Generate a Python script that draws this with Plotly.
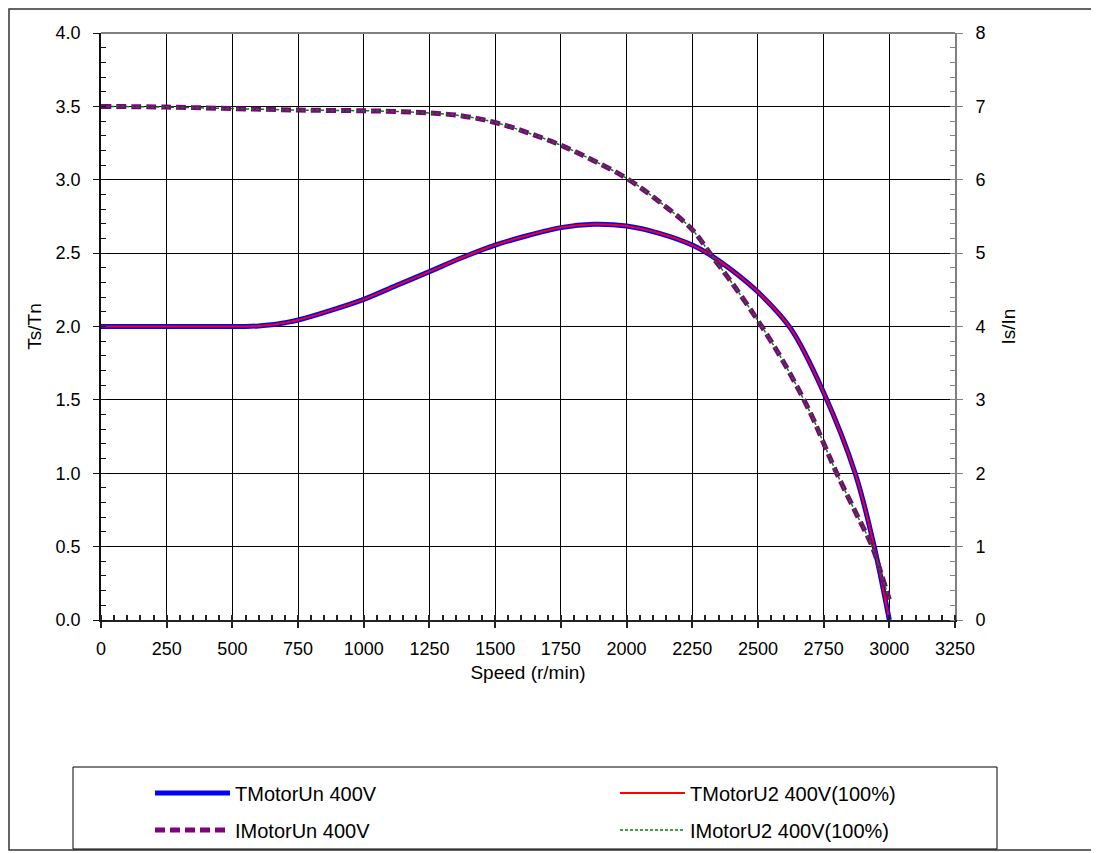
import plotly.graph_objects as go

# ---- data ----
speed_t = [0, 250, 500, 550, 600, 650, 700, 750, 875, 1000, 1125, 1250, 1375, 1500, 1625,
           1750, 1875, 2000, 2125, 2250, 2325, 2400, 2500, 2625, 2750, 2870, 2940, 3000]
torque_un = [2.0, 2.0, 2.0, 2.0, 2.004, 2.012, 2.026, 2.044, 2.11, 2.185, 2.28, 2.374, 2.47, 2.555, 2.62,
             2.674, 2.697, 2.685, 2.635, 2.555, 2.48, 2.385, 2.235, 1.985, 1.55, 1.0, 0.52, 0.0]
torque_u2 = list(torque_un)

speed_i = [0, 250, 500, 750, 1000, 1125, 1250, 1375, 1500, 1625, 1750, 1875, 2000, 2125,
           2250, 2325, 2400, 2500, 2600, 2700, 2750, 2800, 2870, 2935, 2970, 3000]
current_un = [7.0, 6.99, 6.97, 6.95, 6.94, 6.93, 6.91, 6.87, 6.78, 6.64, 6.47, 6.26, 6.02, 5.70,
              5.32, 4.96, 4.60, 4.08, 3.50, 2.82, 2.41, 2.0, 1.48, 1.0, 0.62, 0.28]
current_u2 = list(current_un)

names = ["TMotorUn 400V", "TMotorU2 400V(100%)", "IMotorUn 400V", "IMotorU2 400V(100%)"]
x_ticks = list(range(0, 3251, 250))
y_left_ticks = [0, 0.5, 1.0, 1.5, 2.0, 2.5, 3.0, 3.5, 4.0]
y_right_ticks = list(range(0, 9))

FONT = "Liberation Sans, Arial, sans-serif"
OFF = 8  # page body margin
W, H = 1091, 845
PL, PR, PT, PB = 101, 955, 33, 620  # plot area in page pixels
PW, PH = PR - PL, PB - PT
ML, MT = PL - OFF, PT - OFF
MR, MB = W - (PR - OFF), H - (PB - OFF)


def px_x(p):
    return (p - PL) / PW


def px_y(p):
    return (PB - p) / PH


fig = go.Figure()
fig.add_trace(go.Scatter(x=speed_t, y=torque_un, name=names[0], mode="lines",
                         line=dict(color="#0000FF", width=5, shape="spline", smoothing=1.0),
                         legend="legend"))
fig.add_trace(go.Scatter(x=speed_t, y=torque_u2, name=names[1], mode="lines",
                         line=dict(color="#FF0000", width=2, shape="spline", smoothing=1.0),
                         legend="legend2"))
fig.add_trace(go.Scatter(x=speed_i, y=current_un, name=names[2], mode="lines", yaxis="y2",
                         line=dict(color="#800080", width=5, dash="10px,5px", shape="spline", smoothing=1.0),
                         legend="legend3"))
fig.add_trace(go.Scatter(x=speed_i, y=current_u2, name=names[3], mode="lines", yaxis="y2",
                         line=dict(color="#008000", width=1.5, dash="3px,2px", shape="spline", smoothing=1.0),
                         legend="legend4"))

tickfont = dict(family=FONT, size=18, color="black")
titlefont = dict(family=FONT, size=19, color="black")
legfont = dict(family=FONT, size=20, color="black")


def leg(xp, yp, iw):
    return dict(orientation="h", x=px_x(xp), xanchor="left", y=px_y(yp), yanchor="middle",
                itemwidth=iw, font=legfont, bgcolor="rgba(0,0,0,0)", borderwidth=0)


fig.update_layout(
    width=W, height=H,
    margin=dict(l=ML, r=MR, t=MT, b=MB, autoexpand=False),
    paper_bgcolor="white", plot_bgcolor="white",
    font=dict(family=FONT, size=18, color="black"),
    xaxis=dict(range=[0, 3250], tickvals=x_ticks, ticktext=[str(v) for v in x_ticks],
               showgrid=True, gridcolor="black", gridwidth=1, zeroline=False,
               showline=True, linecolor="#222222", linewidth=2,
               ticks="outside", ticklen=6, tickcolor="#222222", tickwidth=1.5,
               minor=dict(dtick=50, ticks="inside", ticklen=5, tickcolor="#222222", showgrid=False),
               tickfont=tickfont, ticklabelstandoff=5,
               title=dict(text="Speed (r/min)", font=titlefont, standoff=8)),
    yaxis=dict(range=[0, 4], tickvals=y_left_ticks, ticktext=[f"{v:.1f}" for v in y_left_ticks],
               showgrid=True, gridcolor="black", gridwidth=1, zeroline=False,
               showline=True, linecolor="#111111", linewidth=1.5,
               ticks="outside", ticklen=6, tickcolor="#111111",
               minor=dict(dtick=0.1, ticks="inside", ticklen=5, tickcolor="#111111", showgrid=False),
               tickfont=tickfont, ticklabelstandoff=9,
               title=dict(text="Ts/Tn", font=titlefont, standoff=9)),
    yaxis2=dict(range=[0, 8], tickvals=y_right_ticks, overlaying="y", side="right",
                showgrid=False, zeroline=False,
                showline=True, linecolor="#808080", linewidth=2,
                ticks="outside", ticklen=6, tickcolor="#808080",
                minor=dict(dtick=0.2, ticks="inside", ticklen=5, tickcolor="#808080", showgrid=False),
                tickfont=tickfont, ticklabelstandoff=9,
                title=dict(text="Is/In", font=titlefont, standoff=17)),
    legend=leg(150, 793, 75),
    legend2=leg(615, 793, 65),
    legend3=leg(150, 830, 75),
    legend4=leg(615, 830, 65),
    showlegend=True,
)

shapes = []
# outer frame
shapes.append(dict(type="rect", xref="paper", yref="paper",
                   x0=px_x(9), x1=px_x(1097), y0=px_y(850), y1=px_y(9),
                   line=dict(color="#333333", width=1.5), layer="below"))
# legend box
shapes.append(dict(type="rect", xref="paper", yref="paper",
                   x0=px_x(73), x1=px_x(997), y0=px_y(849), y1=px_y(767),
                   line=dict(color="black", width=1), layer="below"))
# top border of plot area (gray)
shapes.append(dict(type="line", xref="paper", yref="paper", x0=0, x1=1, y0=1, y1=1,
                   line=dict(color="#808080", width=2), layer="above"))
fig.update_layout(shapes=shapes)

fig.write_html("out.html")
